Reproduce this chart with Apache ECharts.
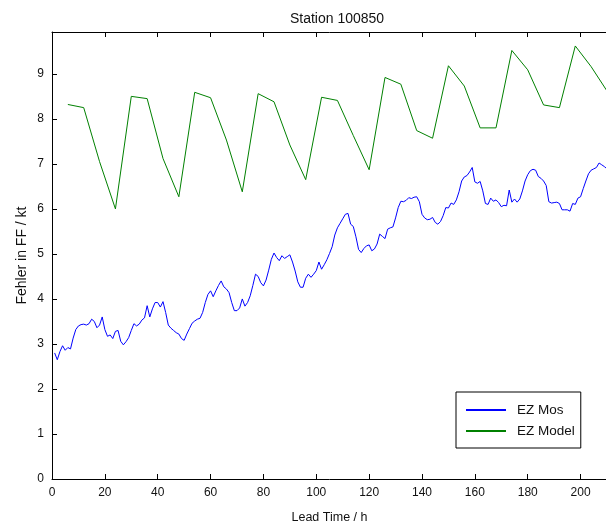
<!DOCTYPE html>
<html>
<head>
<meta charset="utf-8">
<script src="https://cdn.jsdelivr.net/npm/echarts@6/dist/echarts.min.js"></script>
<style>
  html, body { margin: 0; padding: 0; background: #fff; }
  #main { width: 606px; height: 525px; }
</style>
</head>
<body>
<div id="main"></div>
<script>
// EZ Mos error, hourly from lead time 1 h
var mosStart = 1;
var mosValues = [
  2.80, 2.65, 2.83, 2.96, 2.86, 2.92, 2.89, 3.13, 3.32, 3.40,
  3.43, 3.44, 3.42, 3.45, 3.55, 3.50, 3.36, 3.42, 3.60, 3.32,
  3.17, 3.20, 3.12, 3.28, 3.30, 3.06, 2.98, 3.05, 3.14, 3.30,
  3.45, 3.40, 3.44, 3.53, 3.58, 3.85, 3.60, 3.78, 3.92, 3.92,
  3.82, 3.94, 3.70, 3.42, 3.35, 3.30, 3.25, 3.22, 3.12, 3.08,
  3.22, 3.34, 3.46, 3.51, 3.55, 3.57, 3.70, 3.92, 4.10, 4.18,
  4.05, 4.18, 4.30, 4.40, 4.27, 4.22, 4.14, 3.92, 3.74, 3.74,
  3.80, 4.00, 3.84, 3.92, 4.07, 4.30, 4.55, 4.50, 4.36, 4.29,
  4.42, 4.64, 4.88, 5.02, 4.92, 4.85, 4.96, 4.90, 4.94, 4.98,
  4.82, 4.62, 4.38, 4.26, 4.26, 4.46, 4.55, 4.48, 4.55, 4.63,
  4.82, 4.66, 4.76, 4.87, 5.01, 5.16, 5.42, 5.58, 5.68, 5.78,
  5.88, 5.90, 5.66, 5.61, 5.38, 5.10, 5.03, 5.12, 5.18, 5.20,
  5.07, 5.11, 5.22, 5.44, 5.39, 5.34, 5.55, 5.58, 5.60, 5.80,
  6.03, 6.17, 6.16, 6.19, 6.25, 6.23, 6.26, 6.27, 6.16, 5.88,
  5.80, 5.76, 5.77, 5.81, 5.70, 5.66, 5.72, 5.85, 6.03, 6.02,
  6.13, 6.10, 6.20, 6.38, 6.62, 6.71, 6.74, 6.82, 6.92, 6.60,
  6.57, 6.61, 6.40, 6.12, 6.10, 6.24, 6.17, 6.20, 6.14, 6.05,
  6.08, 6.07, 6.42, 6.15, 6.22, 6.15, 6.22, 6.40, 6.62, 6.76,
  6.85, 6.88, 6.86, 6.72, 6.68, 6.62, 6.52, 6.16, 6.13, 6.14,
  6.15, 6.12, 5.98, 5.98, 5.98, 5.95, 6.12, 6.10, 6.24, 6.27,
  6.45, 6.62, 6.78, 6.86, 6.89, 6.92, 7.02, 6.98, 6.94, 6.89
];

// EZ Model error, every 6 h
var modelHours = [
  6, 12, 18, 24, 30, 36, 42, 48, 54, 60, 66, 72, 78, 84, 90, 96, 102, 108,
  114, 120, 126, 132, 138, 144, 150, 156, 162, 168, 174, 180, 186, 192, 198, 204, 210
];
var modelValues = [
  8.32, 8.25, 7.05, 6.00, 8.50, 8.45, 7.12, 6.27, 8.59, 8.47, 7.53, 6.38,
  8.56, 8.38, 7.42, 6.65, 8.48, 8.41, 7.63, 6.87, 8.92, 8.77, 7.74, 7.57,
  9.18, 8.73, 7.80, 7.80, 9.52, 9.09, 8.31, 8.25, 9.62, 9.16, 8.62
];

var seriesNames = ['EZ Mos', 'EZ Model'];
var seriesColors = ['#0000ff', '#008000'];

var chart = echarts.init(document.getElementById('main'));

var mosData = mosValues.map(function (v, i) { return [mosStart + i, v]; });
var modelData = modelHours.map(function (h, i) { return [h, modelValues[i]]; });

var font = 'Liberation Sans, Arial, sans-serif';
var lineBlack = { color: '#000', width: 1 };

chart.setOption({
  animation: false,
  textStyle: { fontFamily: font },
  title: {
    text: 'Station 100850',
    left: 332,
    top: 7,
    textAlign: 'center',
    textStyle: { fontSize: 14, fontWeight: 'normal', color: '#111', fontFamily: font }
  },
  grid: { left: 52, top: 32, width: 555, height: 447, containLabel: false, outerBoundsMode: 'none' },
  legend: {
    orient: 'vertical',
    left: 456,
    top: 392,
    padding: [11, 6, 10, 10],
    itemWidth: 40,
    itemHeight: 2,
    itemGap: 7,
    icon: 'rect',
    borderColor: '#000',
    borderWidth: 1,
    borderRadius: 0,
    backgroundColor: '#fff',
    textStyle: { fontSize: 13.5, lineHeight: 14, color: '#111', padding: [0, 0, 0, 6], fontFamily: font },
    data: seriesNames
  },
  xAxis: [{
    type: 'value',
    min: 0,
    max: 210,
    interval: 20,
    name: 'Lead Time / h',
    nameLocation: 'middle',
    nameGap: 32,
    nameMoveOverlap: false,
    nameTextStyle: { fontSize: 12.5, color: '#111' },
    axisLine: { lineStyle: lineBlack },
    axisTick: { inside: true, length: 5, lineStyle: lineBlack },
    axisLabel: { fontSize: 12, color: '#111', margin: 8, showMaxLabel: false },
    splitLine: { show: false }
  }, {
    type: 'value',
    position: 'top',
    min: 0,
    max: 210,
    interval: 20,
    axisLine: { show: true, lineStyle: lineBlack },
    axisTick: { show: true, inside: true, length: 5, lineStyle: lineBlack },
    axisLabel: { show: false },
    splitLine: { show: false }
  }],
  yAxis: {
    type: 'value',
    min: 0,
    max: 9.93,
    interval: 1,
    name: 'Fehler in FF / kt',
    nameLocation: 'middle',
    nameGap: 23,
    nameMoveOverlap: false,
    nameTextStyle: { fontSize: 14, color: '#111' },
    axisLine: { show: true, lineStyle: lineBlack },
    axisTick: { show: true, inside: true, length: 5, lineStyle: lineBlack },
    axisLabel: { fontSize: 12, color: '#111', margin: 8, showMaxLabel: false },
    splitLine: { show: false }
  },
  series: [{
    name: seriesNames[0],
    type: 'line',
    data: mosData,
    symbol: 'none',
    color: seriesColors[0],
    lineStyle: { color: seriesColors[0], width: 1 }
  }, {
    name: seriesNames[1],
    type: 'line',
    data: modelData,
    symbol: 'none',
    color: seriesColors[1],
    lineStyle: { color: seriesColors[1], width: 1 }
  }]
});
</script>
</body>
</html>
